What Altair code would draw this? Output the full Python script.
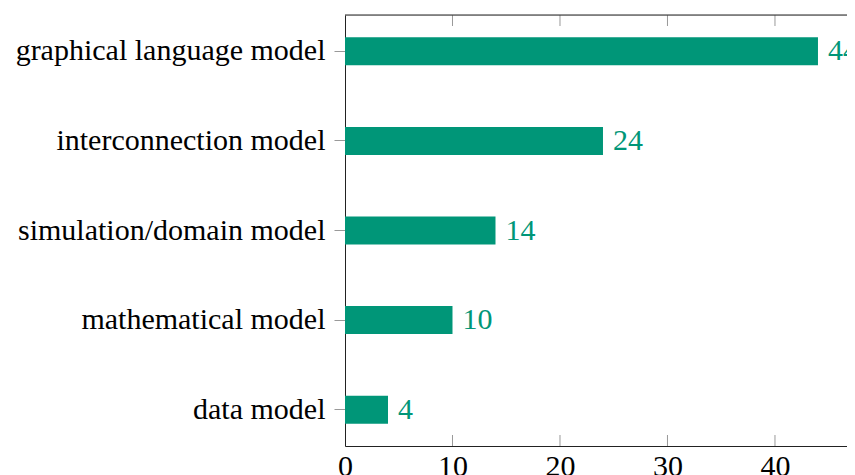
import altair as alt
import pandas as pd

categories = ["graphical language model", "interconnection model",
              "simulation/domain model", "mathematical model", "data model"]
counts = [44, 24, 14, 10, 4]
tick_values = [0, 10, 20, 30, 40]
inner_ticks = [10, 20, 30, 40]

BAR = "#009678"
FONT = "Liberation Serif"
FS = 30
W, H = 502, 431
XMAX = 46.7

df = pd.DataFrame({"category": categories, "count": counts})
ticks_df = pd.DataFrame({"t": inner_ticks})

xscale = alt.Scale(domain=[0, XMAX], nice=False, zero=True)
yscale = alt.Scale(paddingInner=0.6875, paddingOuter=0.249)

x_enc = alt.X("count:Q", scale=xscale,
              axis=alt.Axis(values=tick_values, grid=False, ticks=False,
                            domain=True, domainColor="#222222", domainWidth=1,
                            labelFont=FONT, labelFontSize=FS, labelColor="#000000",
                            labelPadding=5, title=None, labelFlush=False))
y_enc = alt.Y("category:N", sort=categories, scale=yscale,
              axis=alt.Axis(grid=False, ticks=True, tickSize=11, tickColor="#999999",
                            domain=True, domainColor="#222222",
                            labelFont=FONT, labelFontSize=FS, labelColor="#000000",
                            labelPadding=9, title=None, labelLimit=400))

bars = alt.Chart(df).mark_bar(color=BAR).encode(x=x_enc, y=y_enc)

labels = alt.Chart(df).mark_text(align="left", baseline="middle", dx=10,
                                 font=FONT, fontSize=FS, color=BAR).encode(
    x=alt.X("count:Q", scale=xscale),
    y=alt.Y("category:N", sort=categories, scale=yscale),
    text="count:Q")

top_ticks = alt.Chart(ticks_df).mark_rule(color="#999999").encode(
    x=alt.X("t:Q", scale=xscale), y=alt.value(0), y2=alt.value(11))
bottom_ticks = alt.Chart(ticks_df).mark_rule(color="#999999").encode(
    x=alt.X("t:Q", scale=xscale), y=alt.value(H - 11), y2=alt.value(H))
top_line = alt.Chart(pd.DataFrame({"a": [0]})).mark_rule(color="#222222").encode(
    x=alt.value(0), x2=alt.value(W + 5), y=alt.value(0))

chart = alt.layer(top_ticks, bottom_ticks, bars, labels, top_line).properties(
    width=W, height=H,
    autosize=alt.AutoSizeParams(type="none"),
    padding={"left": 337, "top": 7, "right": 0, "bottom": 32},
).configure_view(stroke=None).configure(background="white")

chart.save("out.html", embed_options={"renderer": "svg", "actions": False})
